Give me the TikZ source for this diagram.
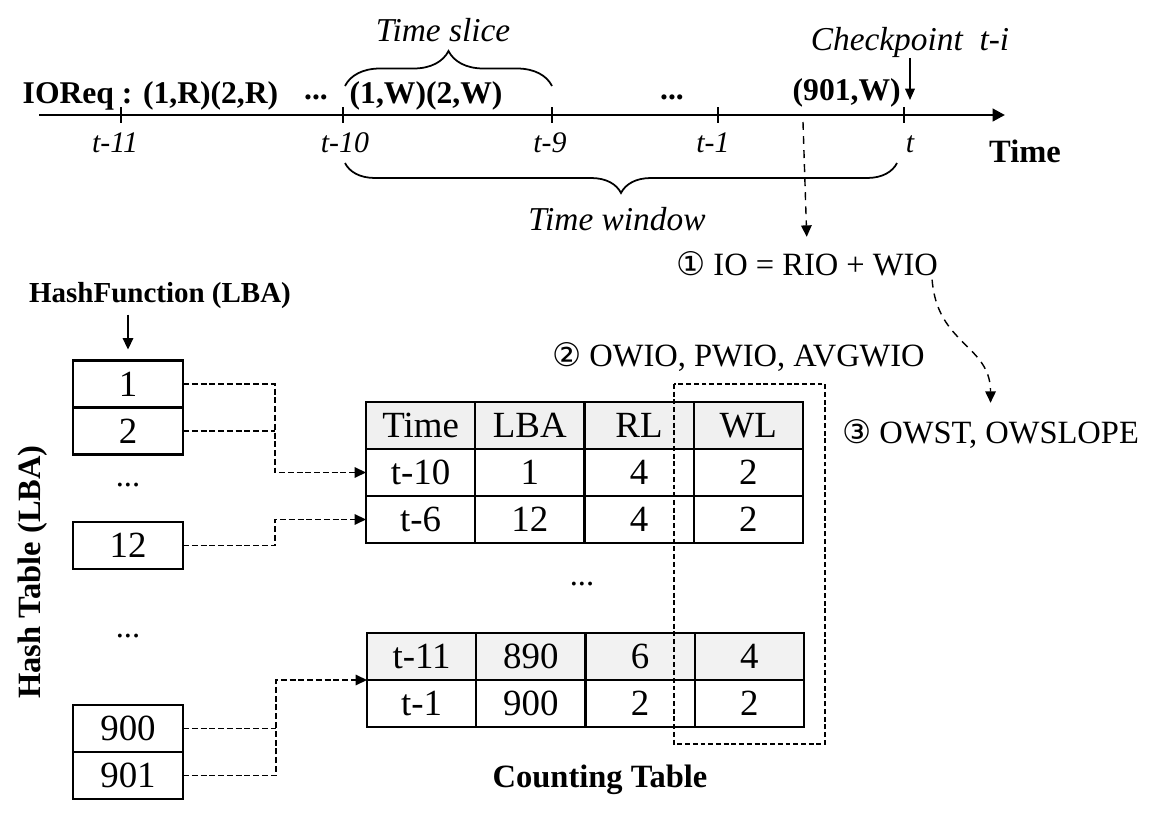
\documentclass[tikz,border=0pt]{standalone}
\usepackage{fontspec}
\setmainfont{Liberation Serif}
\newfontfamily\circfont{DejaVu Sans}
\usetikzlibrary{positioning,arrows.meta,decorations.pathreplacing}
\tikzstyle{cell} = [
draw,
line width=1.2pt,
minimum width=2.185cm,
minimum height=0.94cm,
inner sep=0pt,
outer sep=0pt,
font=\fontsize{21}{25}\selectfont
]
\tikzstyle{headcell} = [
cell,
fill=black!6
]
\tikzstyle{oldcell} = [
cell,
fill=black!5
]
\tikzstyle{hashbox} = [
draw,
line width=1.2pt,
minimum width=2.2cm,
minimum height=0.94cm,
inner sep=0pt,
outer sep=0pt,
font=\fontsize{21}{25}\selectfont
]
\tikzstyle{link} = [
line width=0.9pt,
dash pattern=on 3.4pt off 1.6pt,
-{Triangle[length=6.5pt,width=6pt]}
]
\tikzstyle{flow} = [
line width=0.8pt,
dash pattern=on 4.5pt off 3.5pt,
-{Triangle[length=6.5pt,width=6pt]}
]
\tikzstyle{anno} = [font=\fontsize{18.5}{22}\selectfont, inner sep=2pt]
\tikzstyle{tlabel} = [font=\fontsize{17}{20}\selectfont\itshape, inner sep=0pt]
\tikzstyle{tnote} = [font=\fontsize{19}{22}\selectfont\itshape, inner sep=0pt]
\tikzstyle{req} = [font=\fontsize{18}{22}\selectfont\bfseries, inner sep=0pt]
\tikzstyle{title} = [font=\fontsize{18.5}{22}\selectfont\bfseries]

\begin{document}
\begin{tikzpicture}[
	x=0.02cm,
	y=-0.02cm,
	thick
	]
	\useasboundingbox (0,0) rectangle (1164,822);
	
	% time line
	\coordinate (tstart) at (39,115);
	\coordinate (tend) at (1005,115);
	\draw[line width=1.7pt,-{Triangle[length=7pt,width=7pt]}] (tstart) -- (tend);
	\foreach \x in {121,343,552,718,904}
	\draw[line width=1.5pt] (\x,107) -- (\x,123);
	
	\node[tlabel,anchor=base] (l11) at (115,152) {t-11};
	\node[tlabel,anchor=base] (l10) at (345,152) {t-10};
	\node[tlabel,anchor=base] (l9) at (550,152) {t-9};
	\node[tlabel,anchor=base] (l1) at (713,152) {t-1};
	\node[tlabel,anchor=base] (l0) at (910,152) {t};
	\node[title,anchor=base] (timelbl) at (1025,162) {Time};
	
	\node[req,anchor=base west] (ioreq) at (22,103) {IOReq : (1,R)(2,R)};
	\node[req,anchor=base] (dots1) at (316,99) {...};
	\node[req,anchor=base west] (slice) at (349,103) {(1,W)(2,W)};
	\node[req,anchor=base] (dots2) at (672,99) {...};
	\node[req,anchor=base west] (w901) at (792,100) {(901,W)};
	
	\node[tnote,anchor=base] (cp) at (910,50) {Checkpoint~~t-i};
	\coordinate (cptip) at (910,100);
	\draw[line width=0.9pt,-{Triangle[length=6.5pt,width=5.5pt]}] (cp.south) -- (cptip);
	
	% braces
	\draw[line width=1pt,decorate,decoration={brace,amplitude=0.7cm}] (345,86) -- (552,86);
	\node[tnote,anchor=base] (tslice) at (443,41) {Time slice};
	\draw[line width=1pt,decorate,decoration={brace,mirror,amplitude=0.6cm}] (345,163) -- (897,163);
	\node[tnote,anchor=base] (twin) at (617,230) {Time window};
	
	% hash table
	\node[font=\fontsize{16.5}{19}\selectfont\bfseries,anchor=base] (hf) at (160,302) {HashFunction (LBA)};
	\node[hashbox] (h1) at (128,384) {1};
	\node[hashbox,below=0pt of h1] (h2) {2};
	\node[anno] (hd1) at (128,485) {...};
	\node[hashbox] (h12) at (128,545.5) {12};
	\node[anno] (hd2) at (128,636) {...};
	\node[hashbox] (h900) at (128,728.5) {900};
	\node[hashbox,below=0pt of h900] (h901) {901};
	\draw[line width=0.9pt,shorten >=0.22cm,-{Triangle[length=6.5pt,width=6pt]}] (h1.north |- hf.south) -- (h1.north);
	\node[title,rotate=90] (htable) at (33,572) {Hash Table (LBA)};
	
	% counting table
	\node[headcell] (c00) at (420.6,425.5) {Time};
	\node[headcell,right=0pt of c00] (c01) {LBA};
	\node[headcell,right=0pt of c01] (c02) {RL};
	\node[headcell,right=0pt of c02] (c03) {WL};
	\node[cell,below=0pt of c00] (c10) {t-10};
	\node[cell,right=0pt of c10] (c11) {1};
	\node[cell,right=0pt of c11] (c12) {4};
	\node[cell,right=0pt of c12] (c13) {2};
	\node[cell,below=0pt of c10] (c20) {t-6};
	\node[cell,right=0pt of c20] (c21) {12};
	\node[cell,right=0pt of c21] (c22) {4};
	\node[cell,right=0pt of c22] (c23) {2};
	
	\node[anno] (tdots) at (582,584) {...};
	
	\node[oldcell] (d00) at (421.6,656.5) {t-11};
	\node[oldcell,right=0pt of d00] (d01) {890};
	\node[oldcell,right=0pt of d01] (d02) {6};
	\node[oldcell,right=0pt of d02] (d03) {4};
	\node[cell,below=0pt of d00] (d10) {t-1};
	\node[cell,right=0pt of d10] (d11) {900};
	\node[cell,right=0pt of d11] (d12) {2};
	\node[cell,right=0pt of d12] (d13) {2};
	
	\node[title,anchor=base] (ctable) at (600,787) {Counting Table};
	
	\draw[line width=1pt,dash pattern=on 2.8pt off 1.6pt] (674,384) rectangle (825,744);
	
	% hash -> table
	\coordinate (jtop) at (275,0);
	\coordinate (jlow) at (276,0);
	\draw[link] (h1.east) -- (h1.east -| jtop) |- (c10.west);
	\draw[link,-] (h2.east) -- (h2.east -| jtop);
	\draw[link] (h12.east) -- (h12.east -| jtop) |- (c20.west);
	\draw[link] (h901.east) -- (h901.east -| jlow) |- (d00.south west);
	\draw[link,-] (h900.east) -- (h900.east -| jlow);
	
	% metrics
	\node[anno,anchor=base west] (io) at (672,275) {{\circfont ①} IO = RIO + WIO};
	\node[anno,anchor=base west] (owio) at (548,366) {{\circfont ②} OWIO, PWIO, AVGWIO};
	\node[anno,anchor=base west] (owst) at (838,443) {{\circfont ③} OWST, OWSLOPE};
	
	\coordinate (wstart) at (803,122);
	\draw[flow,shorten >=0.2cm] (wstart) -- (io.north);
	\draw[flow,shorten >=0.24cm] ([xshift=-0.2cm]io.south east) .. controls +(5,65) and +(0,-70) .. (owst.north);
\end{tikzpicture}
\end{document}
